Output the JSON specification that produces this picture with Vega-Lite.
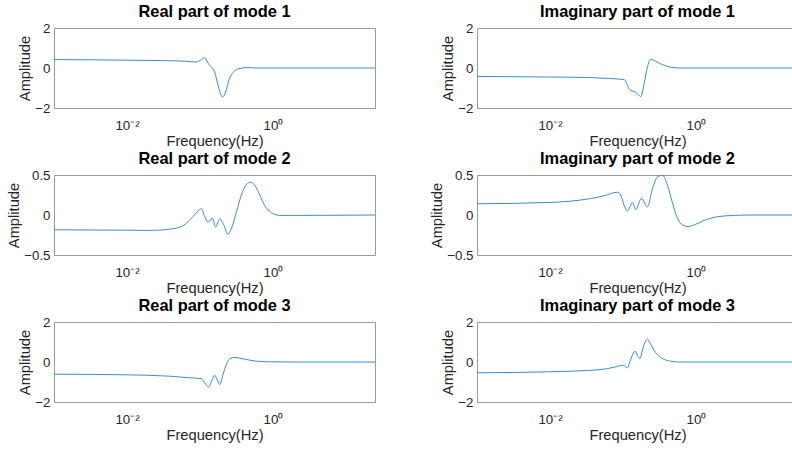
{
  "$schema": "https://vega.github.io/schema/vega-lite/v6.json",
  "autosize": {"type": "pad"},
  "padding": {"left": 6, "top": 3, "right": 0, "bottom": 0},
  "background": "white",
  "config": {
    "font": "Liberation Sans",
    "view": {"stroke": "#9a9a9a", "strokeWidth": 1},
    "axis": {"grid": false, "domain": false, "ticks": false, "labelFont": "Liberation Sans", "labelFontSize": 13.3, "labelColor": "#262626", "titleFont": "Liberation Sans", "titleFontSize": 14.7, "titleFontWeight": "normal", "titleColor": "#262626"},
    "axisY": {"minExtent": 0, "labelPadding": 4, "titlePadding": 2, "format": "~g"},
    "axisX": {"labelPadding": 10, "titlePadding": 2},
    "title": {"font": "Liberation Sans", "fontSize": 16.4, "fontWeight": "bold", "color": "#000000", "frame": "group", "anchor": "middle", "offset": 0.5},
    "line": {"color": "#3a8dd0", "strokeWidth": 1, "interpolate": "monotone"}
  },
  "data": {"values": [
    {"p": "R1", "f": 0.001, "a": 0.42},
    {"p": "R1", "f": 0.00316, "a": 0.41},
    {"p": "R1", "f": 0.01, "a": 0.39},
    {"p": "R1", "f": 0.0316, "a": 0.37},
    {"p": "R1", "f": 0.0631, "a": 0.34},
    {"p": "R1", "f": 0.0891, "a": 0.30},
    {"p": "R1", "f": 0.1047, "a": 0.42},
    {"p": "R1", "f": 0.1159, "a": 0.52},
    {"p": "R1", "f": 0.1247, "a": 0.34},
    {"p": "R1", "f": 0.1358, "a": 0.13},
    {"p": "R1", "f": 0.1432, "a": 0.05},
    {"p": "R1", "f": 0.1585, "a": -0.2},
    {"p": "R1", "f": 0.182, "a": -1.03},
    {"p": "R1", "f": 0.2028, "a": -1.45},
    {"p": "R1", "f": 0.2249, "a": -1.2},
    {"p": "R1", "f": 0.2495, "a": -0.6},
    {"p": "R1", "f": 0.2692, "a": -0.35},
    {"p": "R1", "f": 0.302, "a": -0.12},
    {"p": "R1", "f": 0.3548, "a": -0.02},
    {"p": "R1", "f": 0.4365, "a": 0.02},
    {"p": "R1", "f": 0.631, "a": 0.0},
    {"p": "R1", "f": 3.162, "a": 0.0},
    {"p": "R1", "f": 25, "a": 0.0},

    {"p": "I1", "f": 0.001, "a": -0.42},
    {"p": "I1", "f": 0.00955, "a": -0.45},
    {"p": "I1", "f": 0.0363, "a": -0.48},
    {"p": "I1", "f": 0.0631, "a": -0.52},
    {"p": "I1", "f": 0.1033, "a": -0.58},
    {"p": "I1", "f": 0.1096, "a": -0.66},
    {"p": "I1", "f": 0.1148, "a": -0.87},
    {"p": "I1", "f": 0.1276, "a": -1.12},
    {"p": "I1", "f": 0.1493, "a": -1.2},
    {"p": "I1", "f": 0.175, "a": -1.43},
    {"p": "I1", "f": 0.195, "a": -0.78},
    {"p": "I1", "f": 0.2163, "a": 0.05},
    {"p": "I1", "f": 0.2399, "a": 0.43},
    {"p": "I1", "f": 0.2818, "a": 0.33},
    {"p": "I1", "f": 0.3467, "a": 0.17},
    {"p": "I1", "f": 0.4519, "a": 0.04},
    {"p": "I1", "f": 0.6166, "a": 0.0},
    {"p": "I1", "f": 3.162, "a": 0.0},
    {"p": "I1", "f": 25, "a": 0.0},

    {"p": "R2", "f": 0.001, "a": -0.185},
    {"p": "R2", "f": 0.01, "a": -0.19},
    {"p": "R2", "f": 0.0204, "a": -0.193},
    {"p": "R2", "f": 0.0385, "a": -0.178},
    {"p": "R2", "f": 0.0585, "a": -0.133},
    {"p": "R2", "f": 0.0802, "a": -0.02},
    {"p": "R2", "f": 0.0968, "a": 0.06},
    {"p": "R2", "f": 0.1045, "a": 0.08},
    {"p": "R2", "f": 0.1159, "a": -0.02},
    {"p": "R2", "f": 0.1288, "a": -0.09},
    {"p": "R2", "f": 0.1479, "a": -0.04},
    {"p": "R2", "f": 0.1641, "a": -0.15},
    {"p": "R2", "f": 0.1862, "a": -0.05},
    {"p": "R2", "f": 0.2113, "a": -0.12},
    {"p": "R2", "f": 0.2421, "a": -0.24},
    {"p": "R2", "f": 0.2692, "a": -0.17},
    {"p": "R2", "f": 0.3162, "a": 0.04},
    {"p": "R2", "f": 0.369, "a": 0.25},
    {"p": "R2", "f": 0.4325, "a": 0.38},
    {"p": "R2", "f": 0.4955, "a": 0.41},
    {"p": "R2", "f": 0.5623, "a": 0.37},
    {"p": "R2", "f": 0.6607, "a": 0.25},
    {"p": "R2", "f": 0.7691, "a": 0.12},
    {"p": "R2", "f": 0.9506, "a": 0.03},
    {"p": "R2", "f": 1.23, "a": -0.005},
    {"p": "R2", "f": 1.879, "a": -0.005},
    {"p": "R2", "f": 25, "a": 0.0},

    {"p": "I2", "f": 0.001, "a": 0.14},
    {"p": "I2", "f": 0.00912, "a": 0.156},
    {"p": "I2", "f": 0.01905, "a": 0.173},
    {"p": "I2", "f": 0.036, "a": 0.206},
    {"p": "I2", "f": 0.055, "a": 0.24},
    {"p": "I2", "f": 0.0832, "a": 0.285},
    {"p": "I2", "f": 0.0933, "a": 0.25},
    {"p": "I2", "f": 0.1033, "a": 0.124},
    {"p": "I2", "f": 0.1148, "a": 0.05},
    {"p": "I2", "f": 0.1349, "a": 0.156},
    {"p": "I2", "f": 0.1493, "a": 0.07},
    {"p": "I2", "f": 0.1791, "a": 0.206},
    {"p": "I2", "f": 0.2163, "a": 0.103},
    {"p": "I2", "f": 0.2535, "a": 0.33},
    {"p": "I2", "f": 0.2972, "a": 0.475},
    {"p": "I2", "f": 0.3467, "a": 0.496},
    {"p": "I2", "f": 0.4074, "a": 0.37},
    {"p": "I2", "f": 0.4786, "a": 0.144},
    {"p": "I2", "f": 0.5585, "a": -0.042},
    {"p": "I2", "f": 0.6546, "a": -0.124},
    {"p": "I2", "f": 0.7816, "a": -0.145},
    {"p": "I2", "f": 0.9441, "a": -0.124},
    {"p": "I2", "f": 1.297, "a": -0.067},
    {"p": "I2", "f": 1.982, "a": -0.021},
    {"p": "I2", "f": 3.35, "a": -0.005},
    {"p": "I2", "f": 6.31, "a": 0.0},
    {"p": "I2", "f": 25, "a": 0.0},

    {"p": "R3", "f": 0.001, "a": -0.61},
    {"p": "R3", "f": 0.00977, "a": -0.64},
    {"p": "R3", "f": 0.0385, "a": -0.71},
    {"p": "R3", "f": 0.0724, "a": -0.79},
    {"p": "R3", "f": 0.1047, "a": -0.83},
    {"p": "R3", "f": 0.1159, "a": -1.05},
    {"p": "R3", "f": 0.1318, "a": -1.25},
    {"p": "R3", "f": 0.1459, "a": -0.91},
    {"p": "R3", "f": 0.1585, "a": -0.66},
    {"p": "R3", "f": 0.173, "a": -0.91},
    {"p": "R3", "f": 0.1862, "a": -1.13},
    {"p": "R3", "f": 0.2065, "a": -0.63},
    {"p": "R3", "f": 0.2291, "a": -0.13},
    {"p": "R3", "f": 0.2553, "a": 0.16},
    {"p": "R3", "f": 0.2985, "a": 0.23},
    {"p": "R3", "f": 0.389, "a": 0.16},
    {"p": "R3", "f": 0.5929, "a": 0.04},
    {"p": "R3", "f": 0.9016, "a": 0.01},
    {"p": "R3", "f": 1.995, "a": 0.0},
    {"p": "R3", "f": 25, "a": 0.0},

    {"p": "I3", "f": 0.001, "a": -0.54},
    {"p": "I3", "f": 0.00955, "a": -0.49},
    {"p": "I3", "f": 0.0494, "a": -0.38},
    {"p": "I3", "f": 0.0759, "a": -0.26},
    {"p": "I3", "f": 0.1012, "a": -0.16},
    {"p": "I3", "f": 0.1148, "a": -0.29},
    {"p": "I3", "f": 0.1276, "a": 0.13},
    {"p": "I3", "f": 0.1462, "a": 0.54},
    {"p": "I3", "f": 0.1585, "a": 0.32},
    {"p": "I3", "f": 0.1714, "a": 0.16},
    {"p": "I3", "f": 0.182, "a": 0.5},
    {"p": "I3", "f": 0.195, "a": 0.88},
    {"p": "I3", "f": 0.2163, "a": 1.13},
    {"p": "I3", "f": 0.2399, "a": 0.88},
    {"p": "I3", "f": 0.2818, "a": 0.46},
    {"p": "I3", "f": 0.3467, "a": 0.18},
    {"p": "I3", "f": 0.4519, "a": 0.04},
    {"p": "I3", "f": 0.6166, "a": 0.0},
    {"p": "I3", "f": 25, "a": 0.0}
  ]},
  "columns": 2,
  "bounds": "flush",
  "spacing": {"row": 67, "column": 102},
  "concat": [
    {"title": "Real part of mode 1", "width": 321, "height": 80,
     "transform": [{"filter": "datum.p === 'R1'"}],
     "mark": {"type": "line"},
     "encoding": {
       "x": {"field": "f", "type": "quantitative", "scale": {"type": "log", "domain": [0.001, 25], "nice": false}, "axis": {"values": [0.01, 1], "labelExpr": "datum.value < 0.1 ? '10⁻²' : '10⁰'", "title": "Frequency(Hz)"}},
       "y": {"field": "a", "type": "quantitative", "scale": {"domain": [-2, 2], "nice": false, "zero": false}, "axis": {"values": [-2, 0, 2], "title": "Amplitude"}}}},
    {"title": "Imaginary part of mode 1", "width": 321, "height": 80,
     "transform": [{"filter": "datum.p === 'I1'"}],
     "mark": {"type": "line"},
     "encoding": {
       "x": {"field": "f", "type": "quantitative", "scale": {"type": "log", "domain": [0.001, 25], "nice": false}, "axis": {"values": [0.01, 1], "labelExpr": "datum.value < 0.1 ? '10⁻²' : '10⁰'", "title": "Frequency(Hz)"}},
       "y": {"field": "a", "type": "quantitative", "scale": {"domain": [-2, 2], "nice": false, "zero": false}, "axis": {"values": [-2, 0, 2], "title": "Amplitude"}}}},
    {"title": "Real part of mode 2", "width": 321, "height": 80,
     "transform": [{"filter": "datum.p === 'R2'"}],
     "mark": {"type": "line"},
     "encoding": {
       "x": {"field": "f", "type": "quantitative", "scale": {"type": "log", "domain": [0.001, 25], "nice": false}, "axis": {"values": [0.01, 1], "labelExpr": "datum.value < 0.1 ? '10⁻²' : '10⁰'", "title": "Frequency(Hz)"}},
       "y": {"field": "a", "type": "quantitative", "scale": {"domain": [-0.5, 0.5], "nice": false, "zero": false}, "axis": {"values": [-0.5, 0, 0.5], "title": "Amplitude"}}}},
    {"title": "Imaginary part of mode 2", "width": 321, "height": 80,
     "transform": [{"filter": "datum.p === 'I2'"}],
     "mark": {"type": "line"},
     "encoding": {
       "x": {"field": "f", "type": "quantitative", "scale": {"type": "log", "domain": [0.001, 25], "nice": false}, "axis": {"values": [0.01, 1], "labelExpr": "datum.value < 0.1 ? '10⁻²' : '10⁰'", "title": "Frequency(Hz)"}},
       "y": {"field": "a", "type": "quantitative", "scale": {"domain": [-0.5, 0.5], "nice": false, "zero": false}, "axis": {"values": [-0.5, 0, 0.5], "title": "Amplitude"}}}},
    {"title": "Real part of mode 3", "width": 321, "height": 80,
     "transform": [{"filter": "datum.p === 'R3'"}],
     "mark": {"type": "line"},
     "encoding": {
       "x": {"field": "f", "type": "quantitative", "scale": {"type": "log", "domain": [0.001, 25], "nice": false}, "axis": {"values": [0.01, 1], "labelExpr": "datum.value < 0.1 ? '10⁻²' : '10⁰'", "title": "Frequency(Hz)"}},
       "y": {"field": "a", "type": "quantitative", "scale": {"domain": [-2, 2], "nice": false, "zero": false}, "axis": {"values": [-2, 0, 2], "title": "Amplitude"}}}},
    {"title": "Imaginary part of mode 3", "width": 321, "height": 80,
     "transform": [{"filter": "datum.p === 'I3'"}],
     "mark": {"type": "line"},
     "encoding": {
       "x": {"field": "f", "type": "quantitative", "scale": {"type": "log", "domain": [0.001, 25], "nice": false}, "axis": {"values": [0.01, 1], "labelExpr": "datum.value < 0.1 ? '10⁻²' : '10⁰'", "title": "Frequency(Hz)"}},
       "y": {"field": "a", "type": "quantitative", "scale": {"domain": [-2, 2], "nice": false, "zero": false}, "axis": {"values": [-2, 0, 2], "title": "Amplitude"}}}}
  ]
}
